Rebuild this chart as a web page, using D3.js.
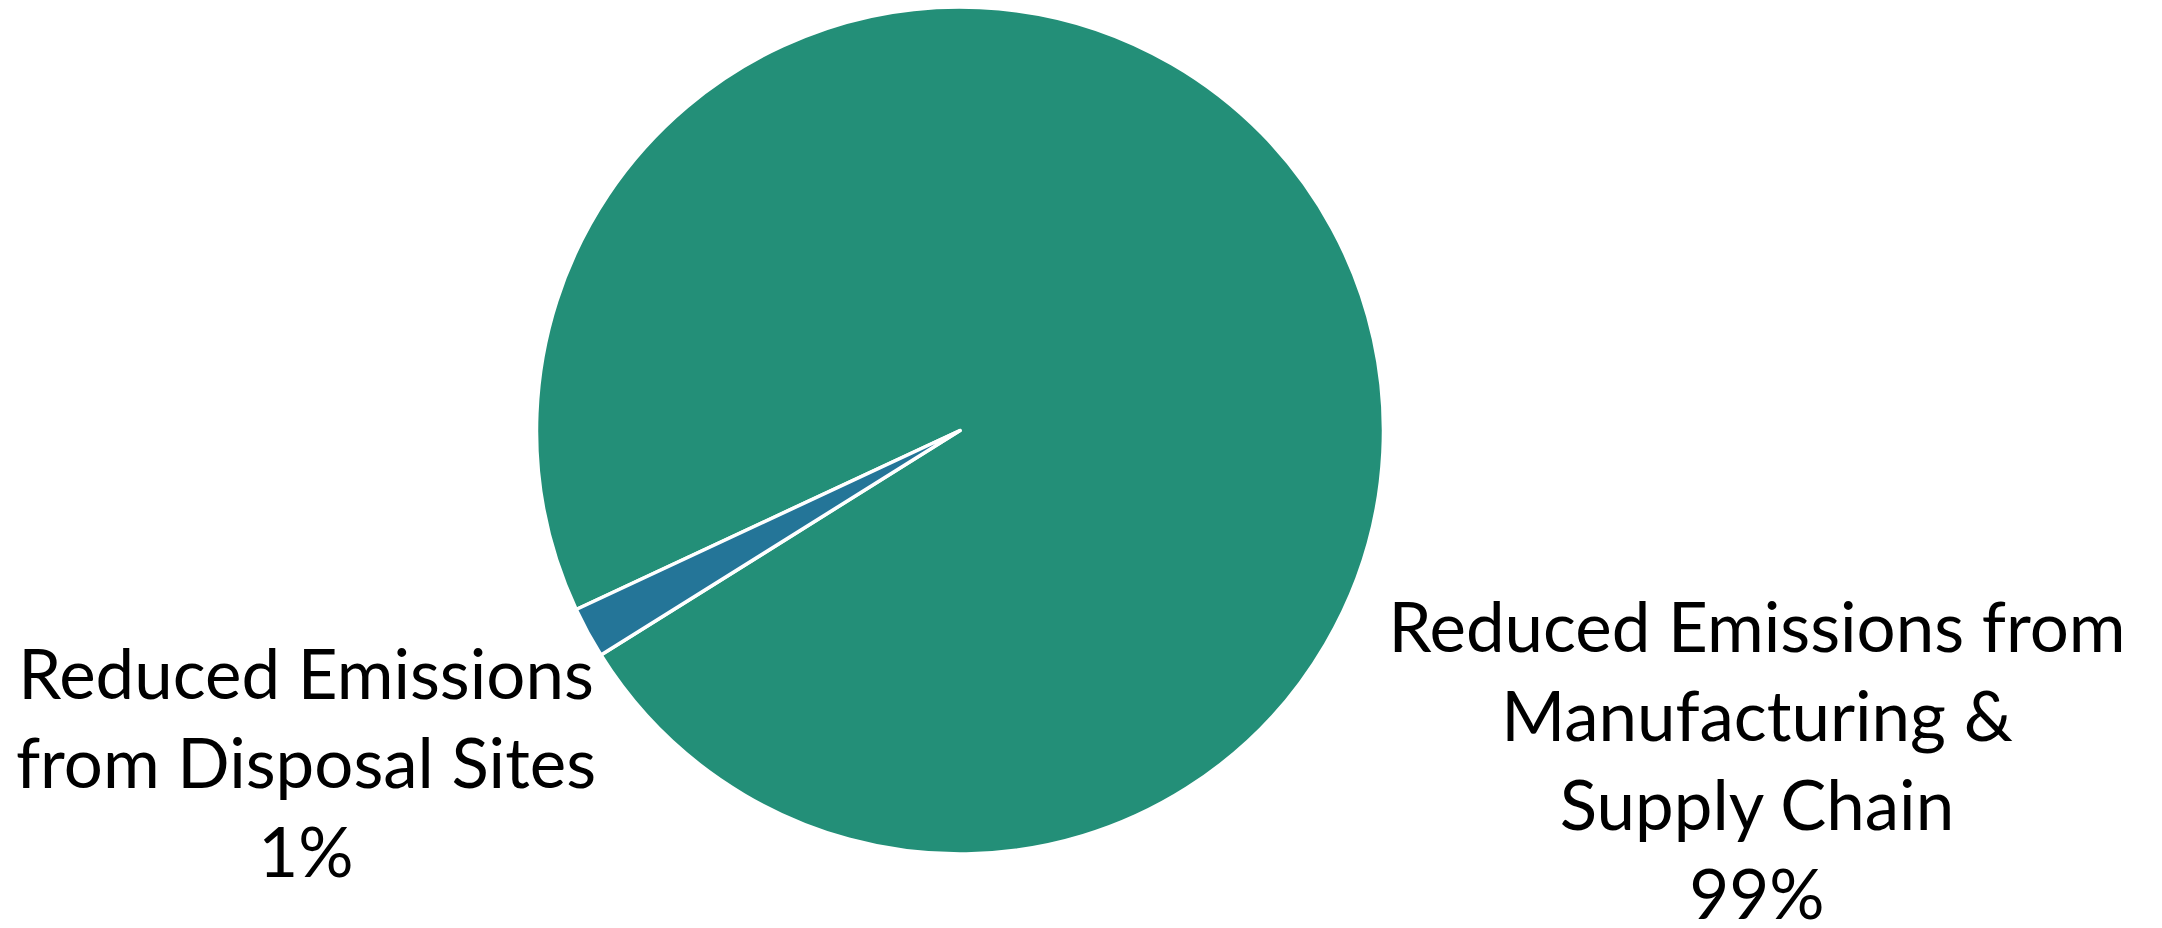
<!DOCTYPE html>
<html>
<head>
<meta charset="utf-8">
<script src="https://cdn.jsdelivr.net/npm/d3@7"></script>
<style>
  body { margin: 0; background: #fff; }
  svg { display: block; }
</style>
</head>
<body>
<div id="chart"></div>
<script>
// data
var categories = ['Manufacturing & Supply Chain', 'Disposal Sites'];
var shares = [98.05, 1.95];          // slice sizes as drawn
var pctLabels = ['99%', '1%'];        // label text as printed
var labelLines = [
  ['Reduced Emissions from', 'Manufacturing &', 'Supply Chain'],
  ['Reduced Emissions', 'from Disposal Sites']
];
var colors = ['#238f78', '#247598'];

// layout
var width = 2162, height = 928;
var cx = 960, cy = 430.5, radius = 423.5;
var startDeg = 245; // first slice angle (clockwise from 12 o'clock)
var fontSize = 69, lineH = 89;
var labelPos = [ // text centre x, first baseline y
  { x: 1757, y: 652 },
  { x: 306, y: 699 }
];

var svg = d3.select('#chart')
  .append('svg')
  .attr('width', width)
  .attr('height', height);

var data = categories.map(function(c, i) {
  return { name: c, value: shares[i], pct: pctLabels[i], lines: labelLines[i] };
});

var start = startDeg * Math.PI / 180;
var pie = d3.pie()
  .sort(null)
  .value(function(d) { return d.value; })
  .startAngle(start)
  .endAngle(start + 2 * Math.PI);

var arc = d3.arc()
  .innerRadius(0)
  .outerRadius(radius);

var g = svg.append('g')
  .attr('transform', 'translate(' + cx + ',' + cy + ')');

g.selectAll('path')
  .data(pie(data))
  .enter()
  .append('path')
  .attr('d', arc)
  .style('fill', function(d, i) { return colors[i]; })
  .style('stroke', '#fff')
  .style('stroke-width', 3.5)
  .style('stroke-linejoin', 'round');

// 数据标签
var labels = svg.selectAll('.label')
  .data(data)
  .enter()
  .append('text')
  .attr('class', 'label')
  .attr('text-anchor', 'middle')
  .attr('style', 'font-family: Lato, Carlito, Calibri, sans-serif; font-size: ' + fontSize + 'px; fill: #000;');

labels.each(function(d, i) {
  var t = d3.select(this);
  var rows = d.lines.concat([d.pct]);
  rows.forEach(function(r, j) {
    t.append('tspan')
      .attr('x', labelPos[i].x)
      .attr('y', labelPos[i].y + j * lineH)
      .text(r);
  });
});
</script>
</body>
</html>
